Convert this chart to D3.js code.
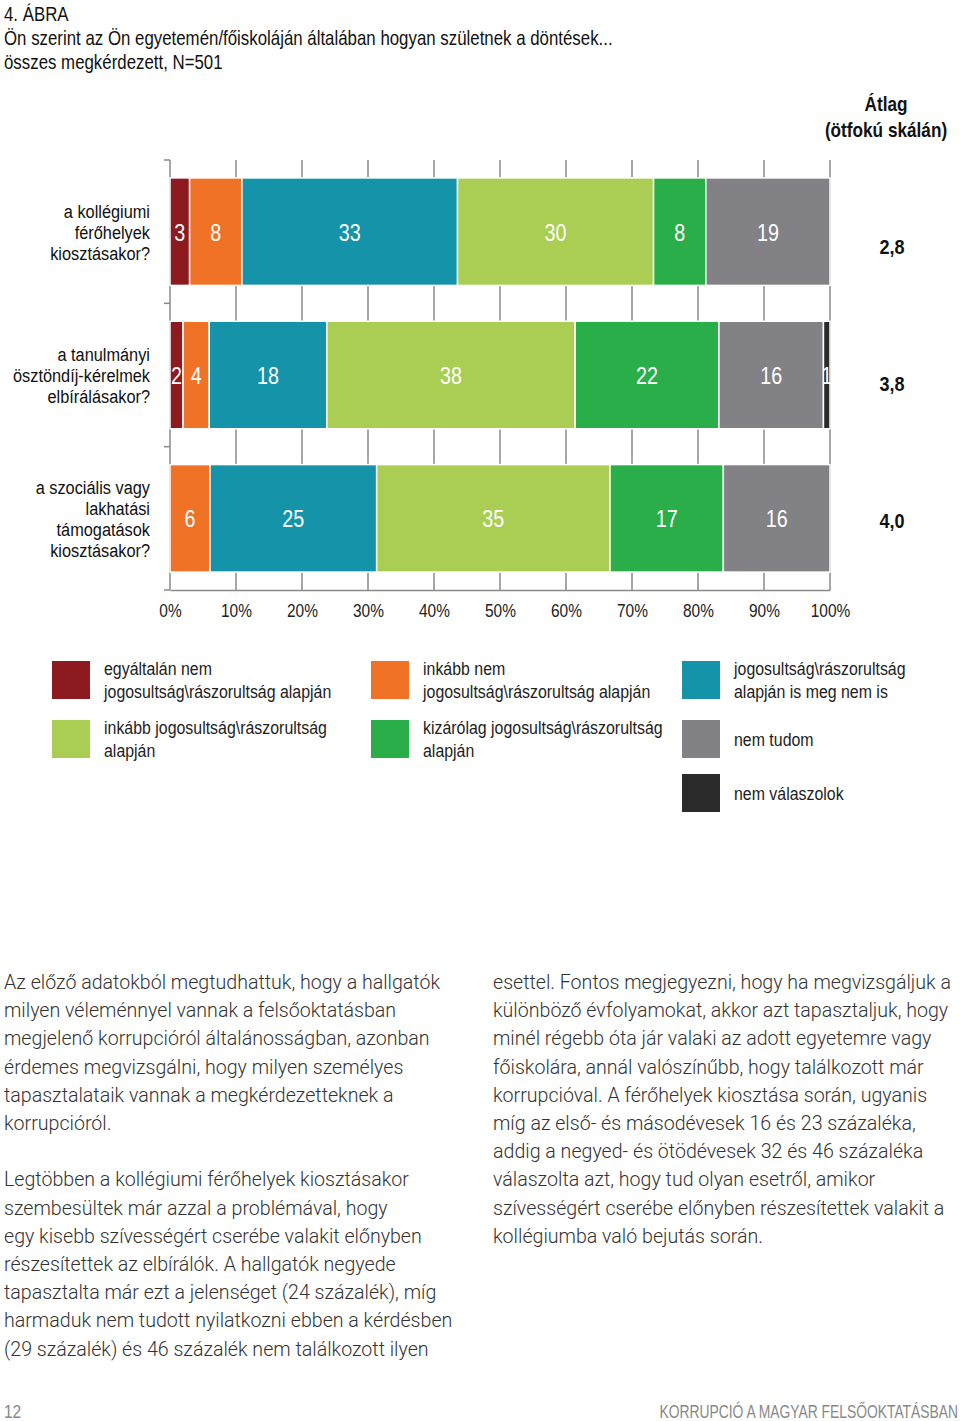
<!DOCTYPE html>
<html>
<head>
<meta charset="utf-8">
<script src="https://cdn.jsdelivr.net/npm/d3@7"></script>
<style>
  body { margin: 0; background: #fff; }
  .narrow { font-family: "Liberation Sans", Arial, sans-serif; }
  .body { font-family: Roboto, "Open Sans", sans-serif; font-weight: 300; }
</style>
</head>
<body>
<div id="graphic"></div>
<script>
// chart data
const categories = [
  ["a kollégiumi", "férőhelyek", "kiosztásakor?"],
  ["a tanulmányi", "ösztöndíj-kérelmek", "elbírálásakor?"],
  ["a szociális vagy", "lakhatási", "támogatások", "kiosztásakor?"]
];
const seriesNames = [
  "egyáltalán nem jogosultság\\rászorultság alapján",
  "inkább nem jogosultság\\rászorultság alapján",
  "jogosultság\\rászorultság alapján is meg nem is",
  "inkább jogosultság\\rászorultság alapján",
  "kizárólag jogosultság\\rászorultság alapján",
  "nem tudom",
  "nem válaszolok"
];
const colors = ["#8c1a1f", "#f07226", "#1593a8", "#a9ce53", "#2aae4a", "#818186", "#2b2b2b"];
const values = [
  [3, 8, 33, 30, 8, 19, 0],
  [2, 4, 18, 38, 22, 16, 1],
  [0, 6, 25, 35, 17, 16, 0]
];
const averages = ["2,8", "3,8", "4,0"];
const xTicks = [0, 0.1, 0.2, 0.3, 0.4, 0.5, 0.6, 0.7, 0.8, 0.9, 1];

const titleLines = [
  "4. ÁBRA",
  "Ön szerint az Ön egyetemén/főiskoláján általában hogyan születnek a döntések...",
  "összes megkérdezett, N=501"
];
const legendLines = [
  ["egyáltalán nem", "jogosultság\\rászorultság alapján"],
  ["inkább nem", "jogosultság\\rászorultság alapján"],
  ["jogosultság\\rászorultság", "alapján is meg nem is"],
  ["inkább jogosultság\\rászorultság", "alapján"],
  ["kizárólag jogosultság\\rászorultság", "alapján"],
  ["nem tudom"],
  ["nem válaszolok"]
];
const leftText = [
  "Az előző adatokból megtudhattuk, hogy a hallgatók",
  "milyen véleménnyel vannak a felsőoktatásban",
  "megjelenő korrupcióról általánosságban, azonban",
  "érdemes megvizsgálni, hogy milyen személyes",
  "tapasztalataik vannak a megkérdezetteknek a",
  "korrupcióról.",
  "",
  "Legtöbben a kollégiumi férőhelyek kiosztásakor",
  "szembesültek már azzal a problémával, hogy",
  "egy kisebb szívességért cserébe valakit előnyben",
  "részesítettek az elbírálók. A hallgatók negyede",
  "tapasztalta már ezt a jelenséget (24 százalék), míg",
  "harmaduk nem tudott nyilatkozni ebben a kérdésben",
  "(29 százalék) és 46 százalék nem találkozott ilyen"
];
const rightText = [
  "esettel. Fontos megjegyezni, hogy ha megvizsgáljuk a",
  "különböző évfolyamokat, akkor azt tapasztaljuk, hogy",
  "minél régebb óta jár valaki az adott egyetemre vagy",
  "főiskolára, annál valószínűbb, hogy találkozott már",
  "korrupcióval. A férőhelyek kiosztása során, ugyanis",
  "míg az első- és másodévesek 16 és 23 százaléka,",
  "addig a negyed- és ötödévesek 32 és 46 százaléka",
  "válaszolta azt, hogy tud olyan esetről, amikor",
  "szívességért cserébe előnyben részesítettek valakit a",
  "kollégiumba való bejutás során."
];

w = 960, h = 1421;
const sx = 0.86; // horizontal squeeze to imitate a condensed face

function tr(x, y, s){ return "translate(" + x + "," + y + ") scale(" + (s || sx) + ",1)"; }

svg = d3.select("#graphic")
  .append("svg")
  .attr("width", w)
  .attr("height", h);

// title
svg.append("g").selectAll("text")
  .data(titleLines)
  .enter()
  .append("text")
  .attr("class", "narrow")
  .attr("transform", (d, i) => tr(4, 21 + i * 24))
  .attr("font-size", 19.6)
  .attr("fill", "#111")
  .text(d => d);

// average header
["Átlag", "(ötfokú skálán)"].forEach(function(t, i){
  svg.append("text")
    .attr("class", "narrow")
    .attr("transform", tr(886, 111 + i * 26))
    .attr("text-anchor", "middle")
    .attr("font-size", 20).attr("font-weight", "bold")
    .attr("fill", "#111")
    .text(t);
});

// stacked data, normalised to 100%
let rows = values.map(function(v, i){
  let r = {cat: i};
  v.forEach((d, j) => r[j] = d);
  return r;
});
let keys = seriesNames.map((d, j) => j);
let stacked = d3.stack()
  .keys(keys)
  .offset(d3.stackOffsetExpand)(rows);

xScale = d3.scaleLinear().domain([0, 1]).range([170, 830]);
yScale = d3.scaleBand()
  .domain(d3.range(categories.length))
  .range([160, 590])
  .paddingInner(0.25)
  .paddingOuter(0.125);

let step = yScale.step();

// gridlines
svg.append("g")
  .selectAll("line")
  .data(xTicks)
  .enter()
  .append("line")
  .attr("x1", d => xScale(d)).attr("x2", d => xScale(d))
  .attr("y1", 160).attr("y2", 590)
  .attr("stroke", "#8a8a8a")
  .attr("stroke-width", 1.5);

// category boundary ticks on the left
svg.append("g")
  .selectAll("line")
  .data(d3.range(categories.length + 1))
  .enter()
  .append("line")
  .attr("x1", 164).attr("x2", 170)
  .attr("y1", d => 160 + d * step).attr("y2", d => 160 + d * step)
  .attr("stroke", "#8a8a8a")
  .attr("stroke-width", 1.5);

// x axis
let xAxis = svg.append("g")
  .attr("class", "axis narrow")
  .attr("transform", "translate(0, 590)")
  .call(d3.axisBottom(xScale).tickValues(xTicks).tickFormat(d3.format(".0%")).tickSize(0).tickPadding(14));
xAxis.select(".domain").attr("stroke", "#8a8a8a").attr("stroke-width", 1.5);
xAxis.selectAll("text")
  .attr("font-size", 18)
  .attr("fill", "#222")
  .attr("font-family", null)
  .attr("transform", "scale(" + sx + ",1)");

// bars
let layers = svg.append("g")
  .selectAll("g")
  .data(stacked)
  .enter()
  .append("g")
  .attr("fill", (d, i) => colors[i]);

layers.selectAll("rect")
  .data(d => d.filter(p => p[1] - p[0] > 0))
  .enter()
  .append("rect")
  .attr("x", d => xScale(d[0]))
  .attr("width", d => xScale(d[1]) - xScale(d[0]))
  .attr("y", d => yScale(d.data.cat))
  .attr("height", yScale.bandwidth())
  .attr("stroke", "#fff")
  .attr("stroke-width", 1.5);

// segment value labels
stacked.forEach(function(layer, j){
  svg.append("g")
    .selectAll("text")
    .data(layer.filter(p => p.data[j] > 0))
    .enter()
    .append("text")
    .attr("class", "narrow")
    .attr("transform", d => tr((xScale(d[0]) + xScale(d[1])) / 2, yScale(d.data.cat) + yScale.bandwidth() / 2 + 9))
    .attr("text-anchor", "middle")
    .attr("font-size", 23)
    .attr("fill", "#fff")
    .text(d => d.data[j]);
});

// category labels
categories.forEach(function(lines, i){
  let cy = yScale(i) + yScale.bandwidth() / 2;
  let lh = 21;
  svg.append("text")
    .attr("class", "narrow")
    .attr("transform", tr(150, cy + 7))
    .attr("text-anchor", "end")
    .attr("font-size", 19)
    .attr("fill", "#111")
    .selectAll("tspan")
    .data(lines)
    .enter()
    .append("tspan")
    .attr("x", 0)
    .attr("y", (d, k) => (k - (lines.length - 1) / 2) * lh)
    .text(d => d);
});

// averages
const avgOffset = [15, 9, 3];
svg.append("g")
  .selectAll("text")
  .data(averages)
  .enter()
  .append("text")
  .attr("class", "narrow")
  .attr("transform", (d, i) => tr(892, yScale(i) + yScale.bandwidth() / 2 + 7 + avgOffset[i]))
  .attr("text-anchor", "middle")
  .attr("font-size", 21)
  .attr("font-weight", "bold")
  .attr("fill", "#111")
  .text(d => d);

// legend
const legendPos = [
  [52, 661], [371, 661], [682, 661],
  [52, 720], [371, 720], [682, 720],
  [682, 774]
];
let legend = svg.append("g")
  .selectAll("g")
  .data(seriesNames)
  .enter()
  .append("g")
  .attr("transform", (d, i) => "translate(" + legendPos[i][0] + "," + legendPos[i][1] + ")");
legend.append("rect")
  .attr("width", 38).attr("height", 38)
  .attr("fill", (d, i) => colors[i]);
legend.append("text")
  .attr("class", "narrow")
  .attr("transform", tr(52, 0))
  .attr("font-size", 18.5)
  .attr("fill", "#222")
  .each(function(d, i){
    let lines = legendLines[i];
    d3.select(this).selectAll("tspan")
      .data(lines)
      .enter()
      .append("tspan")
      .attr("x", 0)
      .attr("y", (t, k) => (lines.length == 1 ? 26 : 14 + k * 23))
      .text(t => t);
  });

// body text
function column(lines, x){
  svg.append("g")
    .selectAll("text")
    .data(lines)
    .enter()
    .append("text")
    .attr("class", "body")
    .attr("x", x)
    .attr("y", (d, i) => 989 + i * 28.2)
    .attr("font-size", 19.6)
    .attr("fill", "#333")
    .text(d => d);
}
column(leftText, 4);
column(rightText, 493);

// footer
svg.append("text")
  .attr("class", "narrow")
  .attr("transform", tr(4, 1418))
  .attr("font-size", 18)
  .attr("fill", "#888")
  .text("12");
svg.append("text")
  .attr("class", "narrow")
  .attr("transform", tr(958, 1418, 0.77))
  .attr("text-anchor", "end")
  .attr("font-size", 18)
  .attr("fill", "#888")
  .text("KORRUPCIÓ A MAGYAR FELSŐOKTATÁSBAN");
</script>
</body>
</html>
